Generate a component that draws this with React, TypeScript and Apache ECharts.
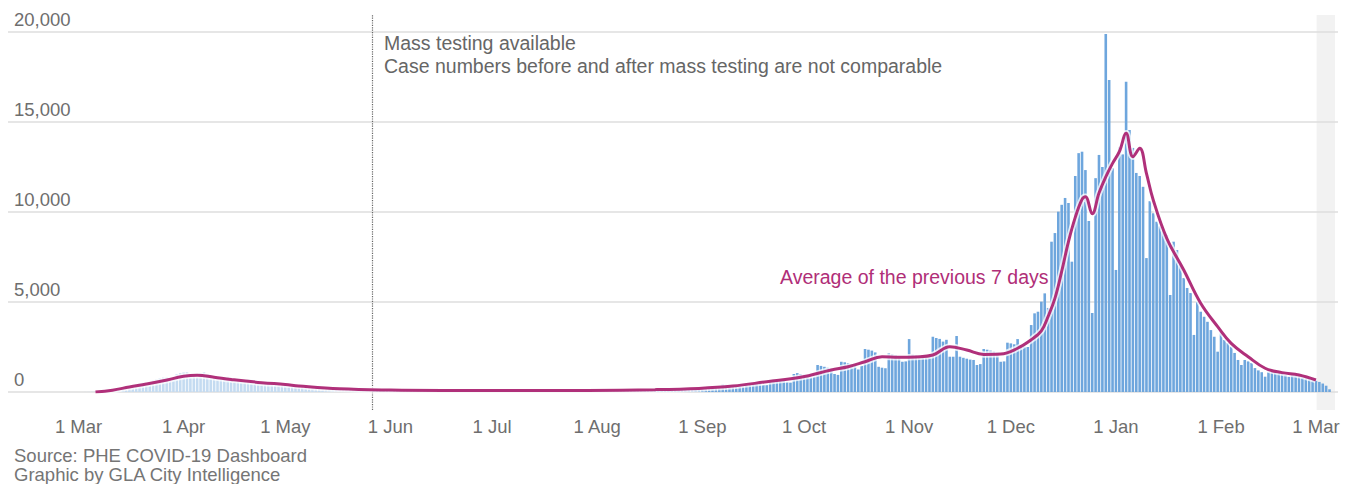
import React, { useEffect, useRef } from 'react';
import * as echarts from 'echarts';

// Daily confirmed cases, London (day 0 = 1 Mar 2020)
const mar20 = [0, 0, 2, 5, 10, 20, 30, 45, 60, 80, 110, 140, 180, 200, 220, 300, 360, 420, 480, 520, 500, 520, 640, 700, 760, 800, 820, 760, 780, 1000, 1050];
const apr20 = [1080, 1100, 980, 900, 820, 1050, 1100, 1000, 920, 860, 760, 700, 820, 850, 800, 760, 720, 640, 560, 700, 680, 640, 600, 560, 500, 460, 560, 540, 500, 470];
const may20 = [430, 380, 330, 420, 400, 370, 340, 300, 260, 230, 300, 280, 260, 240, 220, 190, 170, 220, 200, 190, 180, 160, 140, 130, 160, 150, 140, 130, 120, 110, 100];
const jun20 = [120, 115, 110, 105, 100, 85, 75, 105, 100, 95, 90, 85, 70, 65, 95, 90, 85, 80, 78, 65, 60, 90, 85, 80, 78, 75, 62, 58, 88, 85];
const jul20 = [82, 80, 78, 65, 60, 90, 88, 85, 82, 80, 68, 62, 95, 92, 90, 88, 85, 70, 65, 100, 98, 95, 92, 90, 75, 70, 110, 108, 105, 102, 100];
const aug20 = [85, 80, 125, 122, 120, 118, 115, 95, 90, 135, 130, 128, 125, 122, 100, 95, 150, 145, 140, 138, 135, 110, 105, 180, 175, 170, 165, 160, 130, 125, 210];
const sep20 = [250, 270, 300, 320, 280, 260, 420, 400, 390, 370, 350, 300, 290, 460, 480, 500, 480, 460, 390, 380, 640, 700, 680, 660, 640, 540, 520, 1000, 1050, 1000];
const oct20 = [960, 920, 800, 850, 1500, 1450, 1400, 1350, 1300, 1000, 950, 1680, 1650, 1600, 1550, 1500, 1250, 1450, 2390, 2350, 2300, 2200, 1400, 1350, 1320, 2150, 2100, 2050, 2000, 1680, 1700];
const nov20 = [2940, 2080, 2050, 2000, 2020, 1890, 2050, 3070, 3000, 2950, 2800, 2900, 1960, 1960, 3110, 1960, 1900, 1850, 1800, 1780, 1500, 1550, 2390, 2350, 2300, 2250, 2200, 1680, 1700, 2740];
const dec20 = [2700, 2650, 2940, 2600, 2520, 2500, 3720, 4370, 4460, 5020, 5480, 4670, 8350, 8830, 10020, 10400, 10780, 10500, 7240, 12000, 13270, 13350, 12330, 9500, 4390, 11880, 13170, 12500, 19890, 17330, 12440];
const jan21 = [6780, 13600, 13200, 17240, 14560, 13560, 12170, 12000, 11400, 7440, 10600, 9930, 9460, 9200, 9000, 8720, 5390, 8350, 7890, 7060, 6330, 5780, 5500, 3170, 5020, 4460, 4180, 3900, 3440, 3070, 2240];
const feb21 = [3350, 2890, 2720, 2520, 2170, 1780, 1500, 1780, 1700, 1610, 1330, 1200, 1100, 850, 1130, 1100, 1080, 1050, 1040, 940, 850, 940, 900, 880, 820, 760, 720, 650];
const mar21 = [620, 560, 470, 350, 150];

// 7-day average, read at selected days
const avgDays = [5, 10, 15, 20, 25, 31, 35, 40, 45, 54, 61, 65, 77, 92, 110, 130, 150, 170, 183, 193, 203, 213, 222, 227, 232, 237, 242, 247, 252, 257, 262, 267, 272, 277, 281, 284, 286, 288, 290, 292, 294, 296, 297, 299, 301, 303, 305, 307, 309, 311, 313, 315, 317, 321, 326, 331, 336, 340, 345, 350, 355, 360, 365];
const avgValues = [0, 100, 280, 440, 620, 870, 930, 820, 700, 520, 420, 340, 180, 110, 85, 80, 90, 130, 200, 330, 570, 815, 1220, 1400, 1680, 1960, 1930, 1950, 2055, 2520, 2330, 2090, 2110, 2430, 2900, 3400, 4200, 5200, 6700, 8350, 9700, 10700, 10850, 9900, 11050, 11950, 12700, 13350, 14370, 13070, 13540, 12150, 10670, 8540, 6780, 4930, 3630, 2700, 1960, 1320, 1075, 944, 667];

const monthStartDays = [0, 31, 61, 92, 122, 153, 184, 214, 245, 275, 306, 337, 365];
const monthLabels = ['1 Mar', '1 Apr', '1 May', '1 Jun', '1 Jul', '1 Aug', '1 Sep', '1 Oct', '1 Nov', '1 Dec', '1 Jan', '1 Feb', '1 Mar'];
const yTicks = [0, 5000, 10000, 15000, 20000];

const massTestingDay = 86.5;
const incompleteFrom = 365.2;
const incompleteTo = 370.6;

const FONT = '"Liberation Sans", Arial, sans-serif';

export default function App() {
  const ref = useRef<HTMLDivElement>(null);
  useEffect(() => {
    if (!ref.current) return;
    const chart = echarts.init(ref.current, undefined, { renderer: 'svg' });
    const cases = [...mar20, ...apr20, ...may20, ...jun20, ...jul20, ...aug20, ...sep20, ...oct20, ...nov20, ...dec20, ...jan21, ...feb21, ...mar21];
    const barData = cases.map((v, i) => ({
      value: [i, v],
      itemStyle: { color: i < massTestingDay ? '#c4dbf1' : '#6ea6dd' },
    }));
    const avgData = avgDays.map((d, i) => [d, avgValues[i]]);
    const xMin = -20.8;
    const xMax = 371.5;
    chart.setOption({
      animation: false,
      backgroundColor: '#ffffff',
      textStyle: { fontFamily: FONT },
      grid: [
        { left: 8, right: 16, top: 32, bottom: 92 },
        { left: 8, right: 16, top: 15, bottom: 74 },
      ],
      xAxis: [
        {
          type: 'value', gridIndex: 0, min: xMin, max: xMax,
          axisLine: { show: false }, axisTick: { show: false }, splitLine: { show: false },
          axisLabel: {
            customValues: monthStartDays,
            formatter: (v: number) => monthLabels[monthStartDays.indexOf(Math.round(v))] ?? '',
            color: '#6e6e6e', fontSize: 18.5, fontFamily: FONT, margin: 25,
          },
        },
        { type: 'value', gridIndex: 1, min: xMin, max: xMax, show: false },
      ],
      yAxis: [
        {
          type: 'value', gridIndex: 0, min: 0, max: 20000, interval: 5000,
          axisLine: { show: false }, axisTick: { show: false },
          splitLine: { lineStyle: { color: '#dedede', width: 1.5 } },
          axisLabel: {
            inside: true, verticalAlign: 'bottom', margin: 6, padding: [0, 0, 3, 0],
            color: '#6e6e6e', fontSize: 18.5, fontFamily: FONT,
            formatter: (v: number) => (yTicks.includes(v) ? v.toLocaleString('en-US') : ''),
          },
        },
        { type: 'value', gridIndex: 1, min: 0, max: 1, show: false },
      ],
      series: [
        {
          type: 'line', xAxisIndex: 1, yAxisIndex: 1, data: [], silent: true, z: 0,
          markArea: {
            silent: true, z: -1,
            itemStyle: { color: '#f2f2f2' },
            data: [[{ xAxis: incompleteFrom }, { xAxis: incompleteTo }]],
          },
          markLine: {
            silent: true, symbol: 'none', z: 1,
            label: { show: false },
            lineStyle: { type: 'dotted', color: '#666666', width: 1.2 },
            data: [{ xAxis: massTestingDay }],
          },
        },
        {
          type: 'bar', xAxisIndex: 0, yAxisIndex: 0, barWidth: 2.6, data: barData, z: 2,
        },
        {
          type: 'line', xAxisIndex: 0, yAxisIndex: 0, data: avgData, smooth: 0.4,
          showSymbol: false, silent: true, z: 3,
          lineStyle: { color: 'rgba(255,255,255,0.75)', width: 6.5 },
        },
        {
          type: 'line', xAxisIndex: 0, yAxisIndex: 0, data: avgData, smooth: 0.4,
          showSymbol: false, silent: true, z: 4,
          lineStyle: { color: '#b0307a', width: 3 },
        },
      ],
      graphic: [
        {
          type: 'text', left: 384, top: 31.5, silent: true,
          style: {
            text: 'Mass testing available\nCase numbers before and after mass testing are not comparable',
            fill: '#666666', fontSize: 19.5, fontFamily: FONT, lineHeight: 23,
          },
        },
        {
          type: 'text', left: 780, top: 265.5, silent: true,
          style: { text: 'Average of the previous 7 days', fill: '#b02e78', fontSize: 19.5, fontFamily: FONT, lineHeight: 23 },
        },
        {
          type: 'text', left: 14, top: 445.5, silent: true,
          style: {
            text: 'Source: PHE COVID-19 Dashboard\nGraphic by GLA City Intelligence',
            fill: '#757575', fontSize: 18.5, fontFamily: FONT, lineHeight: 19,
          },
        },
      ],
    });
    return () => chart.dispose();
  }, []);
  return <div ref={ref} style={{ position: 'fixed', left: 0, top: 0, width: 1354, height: 484 }} />;
}
